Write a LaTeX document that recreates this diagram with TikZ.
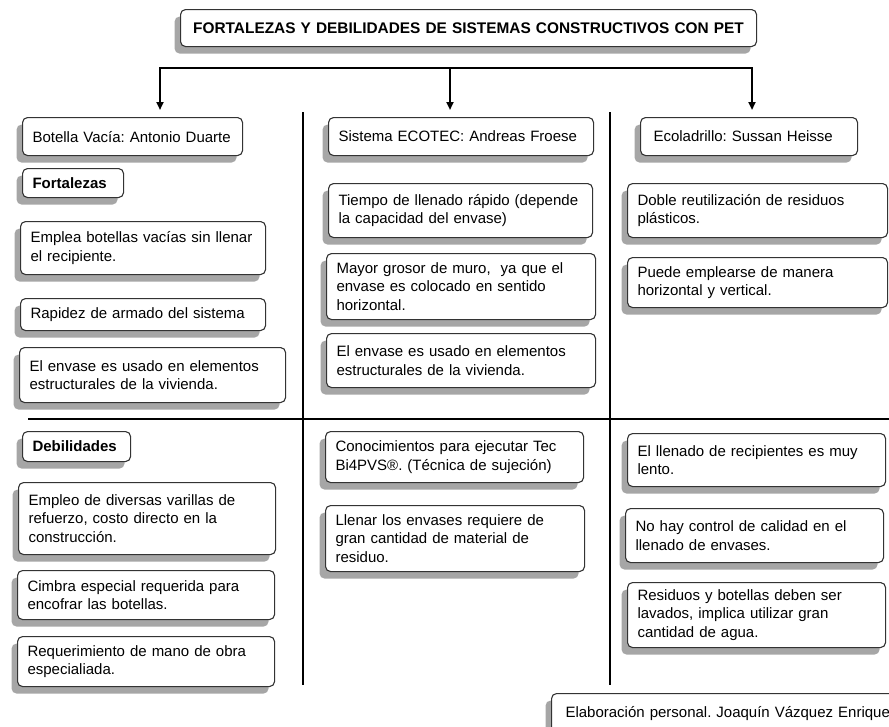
\documentclass[tikz,border=0pt]{standalone}
\usepackage{fontspec}
\setmainfont{Liberation Sans}
\usetikzlibrary{shadows,arrows.meta}
\frenchspacing

\begin{document}
\begin{tikzpicture}[
  x = 1pt, y = -1pt,
  card/.style = {
    shape = rectangle,
    draw = black!80,
    line width = 1.1pt,
    rounded corners = 5pt,
    fill = white,
    drop shadow = {shadow xshift = -6pt, shadow yshift = -7pt,
                   fill = black!35, opacity = 1},
    anchor = north west,
    align = left,
    inner xsep = 10pt,
    inner ysep = 2pt,
    font = \fontsize{15}{18.3}\selectfont,
  },
  tag/.style = {card, font = \fontsize{15}{18.3}\selectfont\bfseries},
  divider/.style = {line width = 2.4pt, black},
  feed/.style = {line width = 2.2pt, black, -{Triangle[length = 8pt, width = 7pt]}}
]
  \useasboundingbox (0, 0) rectangle (889, 726);

  \node[tag, align = center, text width = 556pt, minimum height = 37pt,
    font = \fontsize{15.4}{18}\selectfont\bfseries] (title) at (180, 9)
    {FORTALEZAS Y DEBILIDADES DE SISTEMAS CONSTRUCTIVOS CON PET};

  \coordinate (barL) at (160, 68);
  \coordinate (barM) at (450, 68);
  \coordinate (barR) at (752, 68);
  \coordinate (tipL) at (160, 110);
  \coordinate (tipM) at (450, 110);
  \coordinate (tipR) at (752, 110);

  \draw[feed, {Triangle[length = 8pt, width = 7pt]}-{Triangle[length = 8pt, width = 7pt]}]
    (tipL) -- (barL) -- (barR) -- (tipR);
  \draw[feed] (barM) -- (tipM);

  \draw[divider] (303, 112) -- (303, 685);
  \draw[divider] (610, 112) -- (610, 685);
  \draw[divider] (28, 419) -- (889, 419);

  \node[card, text width = 200pt, minimum height = 38pt] (botella) at (22, 117)
    {Botella Vacía: Antonio Duarte};
  \node[tag, text width = 81pt, minimum height = 29pt] (fort) at (22, 168)
    {Fortalezas};
  \node[card, text width = 225pt, minimum height = 53pt] (fa1) at (20, 221)
    {Emplea botellas vacías sin llenar\\el recipiente.};
  \node[card, text width = 225pt, minimum height = 32pt] (fa2) at (20, 298)
    {Rapidez de armado del sistema};
  \node[card, text width = 246pt, minimum height = 55pt] (fa3) at (19, 347)
    {El envase es usado en elementos\\estructurales de la vivienda.};

  \node[tag, text width = 88pt, minimum height = 30pt] (deb) at (22, 431)
    {Debilidades};
  \node[card, text width = 237pt, minimum height = 72pt] (da1) at (18, 482)
    {Empleo de diversas varillas de\\refuerzo, costo directo en la\\construcción.};
  \node[card, text width = 237pt, minimum height = 49pt] (da2) at (17, 570)
    {Cimbra especial requerida para\\encofrar las botellas.};
  \node[card, text width = 237pt, minimum height = 50pt] (da3) at (17, 636)
    {Requerimiento de mano de obra\\especialiada.};

  \node[card, text width = 245pt, minimum height = 38pt] (ecotec) at (328, 117)
    {Sistema ECOTEC: Andreas Froese};
  \node[card, text width = 244pt, minimum height = 54pt] (fb1) at (328, 183)
    {Tiempo de llenado rápido (depende\\la capacidad del envase)};
  \node[card, text width = 249pt, minimum height = 66pt] (fb2) at (326, 253)
    {Mayor grosor de muro,~ ya que el\\envase es colocado en sentido\\horizontal.};
  \node[card, text width = 249pt, minimum height = 54pt] (fb3) at (326, 333)
    {El envase es usado en elementos\\estructurales de la vivienda.};

  \node[card, text width = 238pt, minimum height = 51pt] (db1) at (325, 431)
    {Conocimientos para ejecutar Tec\\Bi4PVS®. (Técnica de sujeción)};
  \node[card, text width = 239pt, minimum height = 66pt] (db2) at (325, 505)
    {Llenar los envases requiere de\\gran cantidad de material de\\residuo.};

  \node[card, minimum height = 38pt, inner xsep = 13pt,
    text width = 191pt] (ecoladrillo) at (640, 117)
    {Ecoladrillo: Sussan Heisse};
  \node[card, text width = 240pt, minimum height = 54pt] (fc1) at (627, 183)
    {Doble reutilización de residuos\\plásticos.};
  \node[card, text width = 240pt, minimum height = 50pt] (fc2) at (627, 257)
    {Puede emplearse de manera\\horizontal y vertical.};

  \node[card, text width = 238pt, minimum height = 53pt] (dc1) at (627, 433)
    {El llenado de recipientes es muy\\lento.};
  \node[card, text width = 238pt, minimum height = 54pt] (dc2) at (625, 508)
    {No hay control de calidad en el\\llenado de envases.};
  \node[card, text width = 238pt, minimum height = 65pt] (dc3) at (627, 582)
    {Residuos y botellas deben ser\\lavados, implica utilizar gran\\cantidad de agua.};

  \node[card, text width = 340pt, minimum height = 40pt, inner xsep = 14pt] (source) at (551, 693)
    {Elaboración personal. Joaquín Vázquez Enriquez};
\end{tikzpicture}
\end{document}
